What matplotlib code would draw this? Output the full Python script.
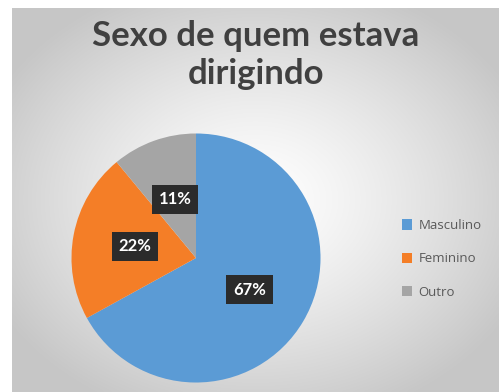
import numpy as np
import matplotlib.pyplot as plt

categories = ["Masculino", "Feminino", "Outro"]
values = [67, 22, 11]
colors = ["#5B9BD5", "#F47E27", "#A5A5A5"]
title = "Sexo de quem estava\ndirigindo"

W, H = 499, 392
fig = plt.figure(figsize=(W / 100, H / 100), dpi=100)
fig.patch.set_facecolor("white")

# radial gradient background of the chart area
bg = fig.add_axes([12 / W, 0, (W - 12) / W, (H - 8) / H])
bg.set_axis_off()
yy, xx = np.mgrid[-1:1:200j, -1:1:250j]
rr = np.sqrt((xx * 0.9) ** 2 + (yy * 0.9) ** 2)
shade = np.clip(1.0 - 0.2 * rr ** 1.3, 0.78, 1.0)
bg.imshow(np.dstack([shade, shade, shade]), extent=[0, 1, 0, 1],
          aspect="auto", interpolation="bicubic")
bg.set_xlim(0, 1)
bg.set_ylim(0, 1)

fig.text(256 / W, 1 - 55 / H, title, ha="center", va="center",
         fontsize=25, fontweight="bold", family="Lato", color="#404040",
         linespacing=1.22)

cx, cy, r = 196, 258, 127
ax = fig.add_axes([(cx - r) / W, (H - cy - r) / H, 2 * r / W, 2 * r / H])
wedges, texts, autotexts = ax.pie(
    values, colors=colors, startangle=90, counterclock=False,
    autopct="%1.0f%%", pctdistance=0.5, radius=1,
    wedgeprops=dict(linewidth=0),
    textprops=dict(color="white", fontsize=12, fontweight="bold", family="Lato"))
for t in autotexts:
    t.set_bbox(dict(boxstyle="square,pad=0.4", facecolor="#2b2b2b",
                    edgecolor="none"))
ax.set_xlim(-1.02, 1.02)
ax.set_ylim(-1.02, 1.02)
ax.set_aspect("equal")

leg = fig.legend(wedges, categories, loc="center left",
                 bbox_to_anchor=(390 / W, 1 - 259 / H), frameon=False,
                 prop=dict(family="Open Sans", size=9.5),
                 labelspacing=1.55, handlelength=0.8,
                 handleheight=0.8, handletextpad=0.45)
for t in leg.get_texts():
    t.set_color("#595959")

fig.savefig("out.png", dpi=100)
